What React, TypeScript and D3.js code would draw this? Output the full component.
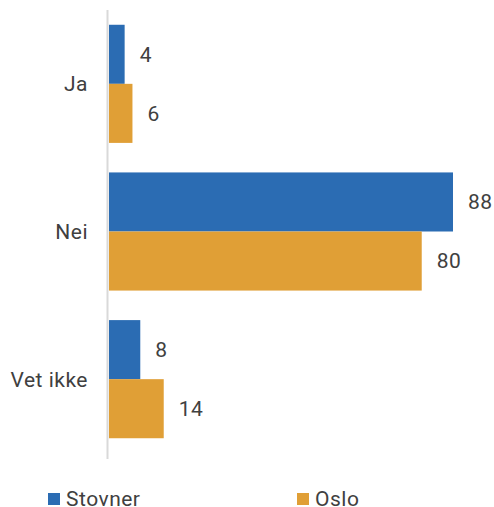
import React from "react";
import * as d3 from "d3";

const categories = ["Ja", "Nei", "Vet ikke"];
const seriesNames = ["Stovner", "Oslo"];
const stovner = [4, 88, 8];
const oslo = [6, 80, 14];
const colors = ["#2B6CB3", "#E09F36"];

const W = 494;
const H = 507;

export default function App() {
  const x0 = 109;
  const x = d3.scaleLinear().domain([0, 88]).range([x0, 453]);
  const y = d3
    .scaleBand<string>()
    .domain(categories)
    .range([10, 453])
    .paddingInner(0.2)
    .paddingOuter(0.1);
  const ys = d3.scaleBand<string>().domain(seriesNames).range([0, y.bandwidth()]);
  const values = [stovner, oslo];
  const font = "Roboto, 'Noto Sans', sans-serif";
  const textColor = "#404040";
  const fs = 21;
  const ls = 0.5;
  const step = y.step();
  const axisTop = (y(categories[0]) ?? 0) - step * 0.1;
  const axisBottom = (y(categories[categories.length - 1]) ?? 0) + y.bandwidth() + step * 0.1 + 6;

  return (
    <svg
      width={W}
      height={H}
      style={{ position: "absolute", left: 0, top: 0, background: "#fff" }}
      fontFamily={font}
    >
      {categories.map((c, i) => (
        <g key={c}>
          {seriesNames.map((s, j) => {
            const v = values[j][i];
            const yy = (y(c) ?? 0) + (ys(s) ?? 0);
            return (
              <g key={s}>
                <rect
                  x={x0}
                  y={yy}
                  width={x(v) - x0}
                  height={ys.bandwidth()}
                  fill={colors[j]}
                />
                <text
                  x={x(v) + 15}
                  y={yy + ys.bandwidth() / 2}
                  dy="0.35em"
                  fontSize={fs}
                  letterSpacing={ls}
                  fill={textColor}
                >
                  {v}
                </text>
              </g>
            );
          })}
          <text
            x={88}
            y={(y(c) ?? 0) + y.bandwidth() / 2}
            dy="0.35em"
            textAnchor="end"
            fontSize={fs}
            letterSpacing={ls}
            fill={textColor}
          >
            {c}
          </text>
        </g>
      ))}
      <line x1={107.5} x2={107.5} y1={axisTop} y2={axisBottom} stroke="#D9D9D9" strokeWidth={2} />
      {seriesNames.map((s, j) => {
        const lx = j === 0 ? 48 : 297;
        return (
          <g key={s}>
            <rect x={lx} y={493} width={12} height={12} fill={colors[j]} />
            <text x={lx + 18} y={506} fontSize={fs} letterSpacing={ls} fill={textColor}>
              {s}
            </text>
          </g>
        );
      })}
    </svg>
  );
}
